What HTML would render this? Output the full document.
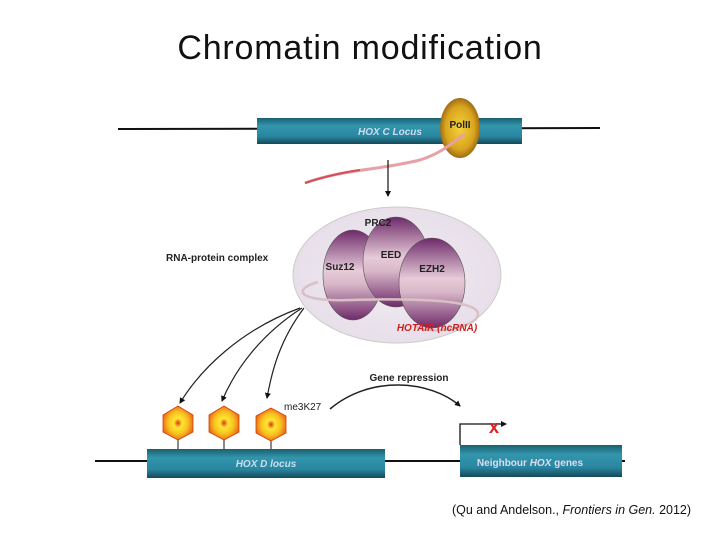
<!DOCTYPE html>
<html><head><style>
body{margin:0;background:#fff;width:720px;height:540px;overflow:hidden;font-family:"Liberation Sans",sans-serif}
</style></head><body>
<svg width="720" height="540" viewBox="0 0 720 540" xmlns="http://www.w3.org/2000/svg">
<defs>
<linearGradient id="box" x1="0" y1="0" x2="0" y2="1">
<stop offset="0" stop-color="#1a5f70"/><stop offset="0.3" stop-color="#3296ad"/><stop offset="0.7" stop-color="#2a86a0"/><stop offset="1" stop-color="#15495a"/></linearGradient>
<radialGradient id="pol" cx="0.5" cy="0.5" r="0.6"><stop offset="0" stop-color="#f4d23a"/><stop offset="0.6" stop-color="#d9a51e"/><stop offset="1" stop-color="#7a4410"/></radialGradient>
<linearGradient id="prot" x1="0" y1="0" x2="0" y2="1"><stop offset="0" stop-color="#6e2a6a"/><stop offset="0.45" stop-color="#e6cbd8"/><stop offset="0.6" stop-color="#d8b8c8"/><stop offset="1" stop-color="#6e2a6a"/></linearGradient>
<radialGradient id="cell" cx="0.5" cy="0.5" r="0.55"><stop offset="0" stop-color="#f3eef3"/><stop offset="1" stop-color="#e6dde8"/></radialGradient>
<radialGradient id="hex" cx="0.5" cy="0.5" r="0.55"><stop offset="0" stop-color="#e0301a"/><stop offset="0.25" stop-color="#ffe830"/><stop offset="0.6" stop-color="#f8c020"/><stop offset="1" stop-color="#e86010"/></radialGradient>
<marker id="ah" markerWidth="6" markerHeight="6" refX="5" refY="3" orient="auto" markerUnits="userSpaceOnUse"><path d="M0,0 L6,3 L0,6 z" fill="#111"/></marker>
</defs>
<text x="360" y="59" text-anchor="middle" font-family="Liberation Sans, sans-serif" font-size="34" letter-spacing="0.8" fill="#111">Chromatin modification</text>

<line x1="118" y1="129" x2="600" y2="128" stroke="#111" stroke-width="2"/>
<rect x="257" y="118" width="265" height="26" fill="url(#box)"/>
<text x="390" y="135" text-anchor="middle" font-size="10" font-style="italic" font-weight="bold" fill="#cde">HOX C Locus</text>
<ellipse cx="460" cy="128" rx="20" ry="30" fill="url(#pol)"/>
<text x="460" y="128" text-anchor="middle" font-size="10" font-weight="bold" fill="#222">PolII</text>
<path d="M305,183 C340,170 380,170 420,160 C445,152 455,140 465,134" fill="none" stroke="#e8a0a8" stroke-width="3"/>
<path d="M305,183 C330,175 345,172 360,170" fill="none" stroke="#d0505a" stroke-width="2"/>
<line x1="388" y1="160" x2="388" y2="196" stroke="#111" stroke-width="1.2" marker-end="url(#ah)"/>

<ellipse cx="397" cy="275" rx="104" ry="68" fill="url(#cell)" stroke="#ccc"/>
<ellipse cx="353" cy="275" rx="30" ry="45" fill="url(#prot)" stroke="#555" stroke-width="0.6"/>
<ellipse cx="396" cy="262" rx="33" ry="45" fill="url(#prot)" stroke="#555" stroke-width="0.6"/>
<ellipse cx="432" cy="283" rx="33" ry="45" fill="url(#prot)" stroke="#555" stroke-width="0.6"/>
<path d="M318,282 C290,290 300,302 350,300 C420,298 480,300 478,315 C475,330 420,335 415,325" fill="none" stroke="#d8c0c4" stroke-width="2.5"/>
<text x="378" y="226" text-anchor="middle" font-size="10" font-weight="bold" fill="#222">PRC2</text>
<text x="391" y="258" text-anchor="middle" font-size="10" font-weight="bold" fill="#222">EED</text>
<text x="340" y="270" text-anchor="middle" font-size="10" font-weight="bold" fill="#222">Suz12</text>
<text x="432" y="272" text-anchor="middle" font-size="10" font-weight="bold" fill="#222">EZH2</text>
<text x="437" y="331" text-anchor="middle" font-size="10" font-weight="bold" font-style="italic" fill="#d02020">HOTAIR (ncRNA)</text>
<text x="166" y="261" font-size="10" font-weight="bold" fill="#222">RNA-protein complex</text>

<path d="M300,308 C240,330 200,370 180,403" fill="none" stroke="#222" stroke-width="1.2" marker-end="url(#ah)"/>
<path d="M302,308 C260,335 235,370 222,401" fill="none" stroke="#222" stroke-width="1.2" marker-end="url(#ah)"/>
<path d="M304,308 C280,340 272,370 267,398" fill="none" stroke="#222" stroke-width="1.2" marker-end="url(#ah)"/>

<line x1="95" y1="461" x2="625" y2="461" stroke="#111" stroke-width="2"/>
<g stroke="#111" stroke-width="1"><line x1="178" y1="438" x2="178" y2="450"/><line x1="224" y1="438" x2="224" y2="450"/><line x1="271" y1="438" x2="271" y2="450"/></g>
<g fill="url(#hex)" stroke="#d04010" stroke-width="0.8">
<polygon points="178,406 193,415 193,432 178,440 163,432 163,415"/>
<polygon points="224,406 239,415 239,432 224,440 209,432 209,415"/>
<polygon points="271,408 286,416 286,433 271,441 256,433 256,416"/>
</g>
<text x="284" y="410" font-size="10" fill="#222">me3K27</text>
<rect x="147" y="449" width="238" height="29" fill="url(#box)"/>
<text x="266" y="467" text-anchor="middle" font-size="10" font-style="italic" font-weight="bold" fill="#cde">HOX D locus</text>
<rect x="460" y="445" width="162" height="32" fill="url(#box)"/>
<text x="530" y="466" text-anchor="middle" font-size="10" font-weight="bold" fill="#dde">Neighbour <tspan font-style="italic">HOX</tspan> genes</text>
<path d="M460,445 V424 H506" fill="none" stroke="#111" stroke-width="1.3" marker-end="url(#ah)"/>
<text x="494" y="433" text-anchor="middle" font-size="18" font-weight="bold" fill="#e02020">x</text>
<path d="M330,409 C370,375 430,380 460,406" fill="none" stroke="#222" stroke-width="1.5" marker-end="url(#ah)"/>
<text x="409" y="381" text-anchor="middle" font-size="10" font-weight="bold" fill="#222">Gene repression</text>
<text x="452" y="514" font-size="12.5" fill="#111">(Qu and Andelson., <tspan font-style="italic">Frontiers in Gen.</tspan> 2012)</text>
</svg>
</body></html>
